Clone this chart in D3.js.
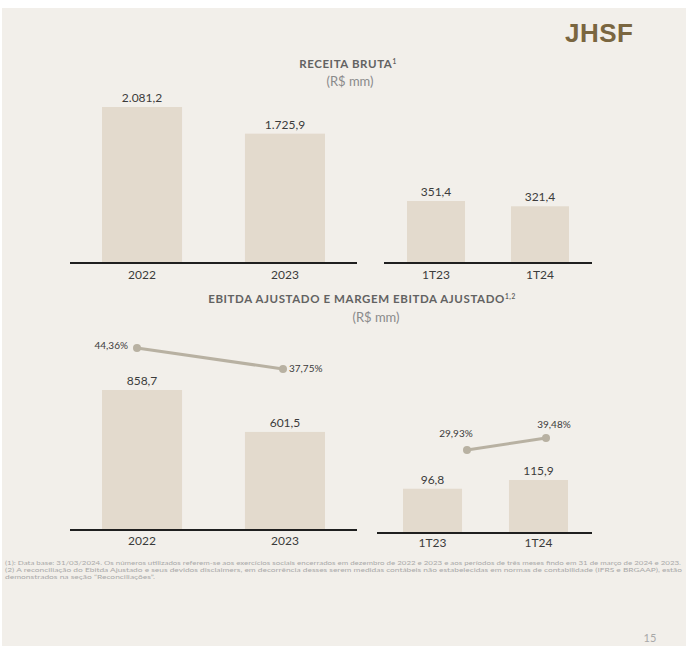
<!DOCTYPE html>
<html><head><meta charset="utf-8">
<script src="https://cdn.jsdelivr.net/npm/d3@7"></script>
<style>
html,body{margin:0;padding:0;background:#fff;}
svg{display:block;font-family:Lato,"Open Sans",sans-serif;}
</style></head>
<body>
<script>
// ---- data ----
const yearCats = ["2022", "2023"];
const quarterCats = ["1T23", "1T24"];
const receitaYears = [2081.2, 1725.9];
const receitaQuarters = [351.4, 321.4];
const ebitdaYears = [858.7, 601.5];
const ebitdaQuarters = [96.8, 115.9];
const margemYears = [44.36, 37.75];
const margemQuarters = [29.93, 39.48];
const receitaYearLabels = ["2.081,2", "1.725,9"];
const receitaQuarterLabels = ["351,4", "321,4"];
const ebitdaYearLabels = ["858,7", "601,5"];
const ebitdaQuarterLabels = ["96,8", "115,9"];
const margemYearLabels = ["44,36%", "37,75%"];
const margemQuarterLabels = ["29,93%", "39,48%"];
const footnotes = [
 "(1): Data base: 31/03/2024. Os números utilizados referem-se aos exercícios sociais encerrados em dezembro de 2022 e 2023 e aos períodos de três meses findo em 31 de março de 2024 e 2023.",
 "(2) A reconciliação do Ebitda Ajustado e seus devidos disclaimers, em decorrência desses serem medidas contábeis não estabelecidas em normas de contabilidade (IFRS e BRGAAP), estão",
 "demonstrados na seção \u201CReconciliações\u201D."
];

const W = 686, H = 646;
const svg = d3.select("body").append("svg").attr("width", W).attr("height", H);
svg.append("rect").attr("x", 2).attr("y", 8).attr("width", W - 2).attr("height", H - 8).attr("fill", "#f2efea");

const barColor = "#e3dacd", textColor = "#3b3b3b", lineColor = "#b8b1a2";

// logo
svg.append("text").attr("x", 565).attr("y", 42).attr("font-family", "'Liberation Sans',Arial,sans-serif")
  .attr("font-weight", 900).attr("font-size", 26).attr("fill", "#7a6640").attr("letter-spacing", 0.5).text("JHSF");

// titles
function title(x, y, main, sup, sub, subx, suby) {
  const t = svg.append("text").attr("x", x).attr("y", y).attr("text-anchor", "middle")
    .attr("font-size", 11.5).attr("font-weight", 700).attr("fill", "#626262").attr("letter-spacing", 0.6);
  t.append("tspan").text(main);
  t.append("tspan").attr("font-size", 6.5).attr("dy", -4).text(sup);
  svg.append("text").attr("x", subx).attr("y", suby).attr("text-anchor", "middle")
    .attr("font-size", 13).attr("fill", "#8a8a8a").text(sub);
}
title(348, 68, "RECEITA BRUTA", "1", "(R$ mm)", 350, 86);
title(362, 303, "EBITDA AJUSTADO E MARGEM EBITDA AJUSTADO", "1,2", "(R$ mm)", 376, 322);

function panel(cats, vals, labels, xr, pad, yr, yTop, baseX, catY) {
  const x = d3.scaleBand().domain(cats).range(xr).paddingInner(pad);
  const y = d3.scaleLinear().domain([0, d3.max(vals)]).range([yr, yTop]);
  const g = svg.append("g");
  g.selectAll("rect.bar").data(cats).join("rect").attr("class", "bar")
    .attr("x", d => x(d)).attr("width", x.bandwidth())
    .attr("y", (d, i) => y(vals[i])).attr("height", (d, i) => y(0) - y(vals[i]))
    .attr("fill", barColor);
  g.selectAll("text.val").data(cats).join("text").attr("class", "val")
    .attr("x", d => x(d) + x.bandwidth() / 2).attr("y", (d, i) => y(vals[i]) - 5)
    .attr("text-anchor", "middle").attr("font-size", 12).attr("fill", textColor)
    .text((d, i) => labels[i]);
  const axis = d3.axisBottom(x).tickSize(0).tickPadding(catY - y(0) - 9);
  const ag = g.append("g").attr("transform", `translate(0,${y(0)})`).call(axis);
  ag.select(".domain").remove();
  ag.selectAll("text").attr("font-size", 12).attr("fill", textColor).attr("font-family", "Lato,sans-serif");
  g.append("line").attr("x1", baseX[0]).attr("x2", baseX[1]).attr("y1", y(0)).attr("y2", y(0))
    .attr("stroke", "#1f1f1f").attr("stroke-width", 2);
  return {x, y};
}

panel(yearCats, receitaYears, receitaYearLabels, [102, 325], 0.44, 263, 107, [70, 357], 279);
panel(quarterCats, receitaQuarters, receitaQuarterLabels, [407, 569], 0.442, 263, 201, [384, 592], 279);
panel(yearCats, ebitdaYears, ebitdaYearLabels, [102, 325], 0.44, 530, 390, [70, 357], 545);
panel(quarterCats, ebitdaQuarters, ebitdaQuarterLabels, [403, 568], 0.443, 533, 480, [377, 592], 547);

function marginLine(cats, vals, labels, xr, yDom, yRange, labelPos) {
  const x = d3.scalePoint().domain(cats).range(xr);
  const y = d3.scaleLinear().domain(yDom).range(yRange);
  const g = svg.append("g");
  const line = d3.line().x(d => x(d)).y((d, i) => y(vals[i]));
  g.append("path").datum(cats).attr("d", line).attr("fill", "none")
    .attr("stroke", lineColor).attr("stroke-width", 3);
  g.selectAll("circle").data(cats).join("circle")
    .attr("cx", d => x(d)).attr("cy", (d, i) => y(vals[i])).attr("r", 4).attr("fill", lineColor);
  g.selectAll("text").data(cats).join("text")
    .attr("x", (d, i) => x(d) + labelPos[i][0]).attr("y", (d, i) => y(vals[i]) + labelPos[i][1])
    .attr("text-anchor", (d, i) => labelPos[i][2])
    .attr("font-size", 10).attr("fill", textColor).text((d, i) => labels[i]);
}
marginLine(yearCats, margemYears, margemYearLabels, [137, 283], [37.75, 44.36], [369, 348],
  [[-9, 1, "end"], [6, 3, "start"]]);
marginLine(quarterCats, margemQuarters, margemQuarterLabels, [467, 546], [29.93, 39.48], [450, 438],
  [[-11, -13, "middle"], [8, -10, "middle"]]);

// footnotes
const fnLen = [676, 677, 150];
svg.selectAll("text.fn").data(footnotes).join("text").attr("class", "fn")
  .attr("x", 5).attr("y", (d, i) => 565 + i * 7)
  .attr("font-size", 6).attr("fill", "#a9a9a9")
  .attr("textLength", (d, i) => fnLen[i]).attr("lengthAdjust", "spacingAndGlyphs")
  .text(d => d);

svg.append("text").attr("x", 650).attr("y", 642).attr("text-anchor", "middle")
  .attr("font-size", 11).attr("fill", "#a8a8a8").text("15");
</script>
</body></html>
